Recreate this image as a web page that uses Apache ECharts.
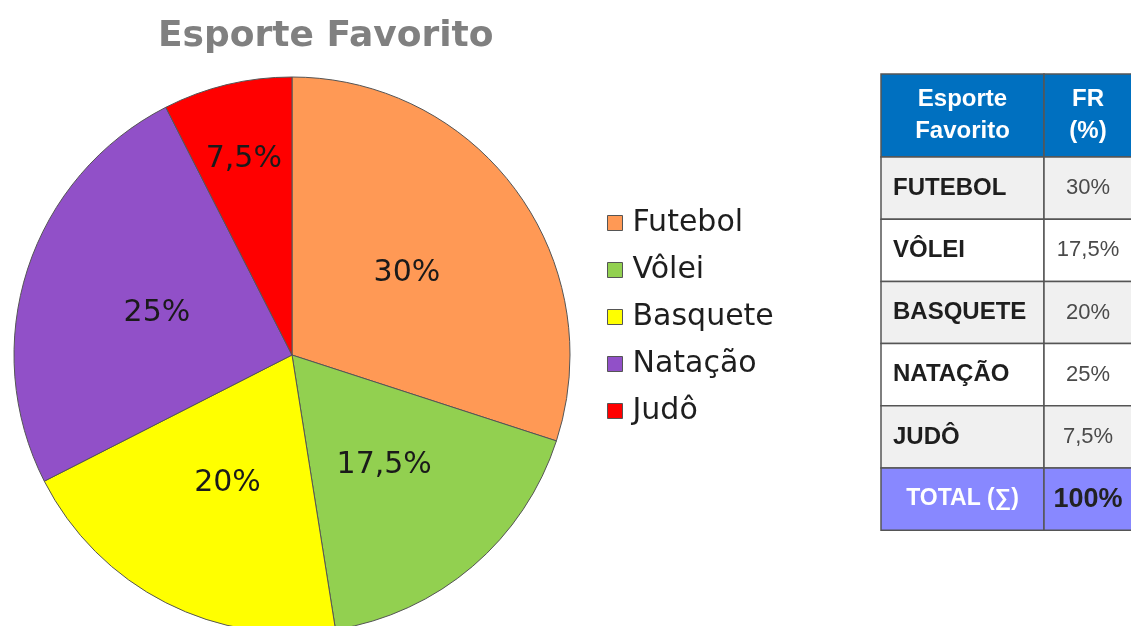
<!DOCTYPE html>
<html>
<head>
<meta charset="utf-8">
<script src="https://cdn.jsdelivr.net/npm/echarts@6/dist/echarts.min.js"></script>
<style>
  html, body { margin: 0; padding: 0; background: #fff; }
  #chart { width: 1131px; height: 626px; }
</style>
</head>
<body>
<div id="chart"></div>
<script>
// dados do gráfico
const esportes = ['Futebol', 'Vôlei', 'Basquete', 'Natação', 'Judô'];
const percentuais = [30, 17.5, 20, 25, 7.5];
const cores = ['#ff9955', '#92d050', '#ffff00', '#9150c8', '#ff0000'];
const cabecalho = ['Esporte\nFavorito', 'FR\n(%)'];
const rotuloTotal = 'TOTAL (∑)';

// formata número com vírgula decimal
function fmt(v) {
  return String(v).replace('.', ',') + '%';
}

const chart = echarts.init(document.getElementById('chart'));

// tabela à direita (desenhada com graphic)
function montaTabela() {
  const x0 = 881, y0 = 74;
  const w = [163, 88];
  const hHead = 83, hRow = 62.2;
  const borda = { stroke: '#555', lineWidth: 1.5 };
  const els = [];
  const celula = (x, y, cw, ch, fill) => {
    els.push({ type: 'rect', shape: { x: x, y: y, width: cw, height: ch }, style: Object.assign({ fill: fill }, borda), z: 1 });
  };
  const texto = (txt, x, y, opts) => {
    els.push({
      type: 'text', z: 2,
      style: Object.assign({
        text: txt, x: x, y: y, align: 'center', verticalAlign: 'middle',
        fontFamily: 'Liberation Sans, Arial', fontSize: 22, fill: '#444'
      }, opts)
    });
  };
  // cabeçalho
  celula(x0, y0, w[0], hHead, '#0070c0');
  celula(x0 + w[0], y0, w[1], hHead, '#0070c0');
  texto(cabecalho[0], x0 + w[0] / 2, y0 + hHead / 2, { fill: '#fff', fontWeight: 'bold', fontSize: 24, lineHeight: 32 });
  texto(cabecalho[1], x0 + w[0] + w[1] / 2, y0 + hHead / 2, { fill: '#fff', fontWeight: 'bold', fontSize: 24, lineHeight: 32 });
  // linhas
  esportes.forEach((nome, i) => {
    const y = y0 + hHead + i * hRow;
    const fill = i % 2 === 0 ? '#f0f0f0' : '#ffffff';
    celula(x0, y, w[0], hRow, fill);
    celula(x0 + w[0], y, w[1], hRow, fill);
    texto(nome.toUpperCase(), x0 + 12, y + hRow / 2, { align: 'left', fontWeight: 'bold', fontSize: 24, fill: '#1e1e1e' });
    texto(fmt(percentuais[i]), x0 + w[0] + w[1] / 2, y + hRow / 2, { fill: '#4a4a4a' });
  });
  // total
  const total = percentuais.reduce((a, b) => a + b, 0);
  const yt = y0 + hHead + esportes.length * hRow;
  celula(x0, yt, w[0], hRow, '#8888ff');
  celula(x0 + w[0], yt, w[1], hRow, '#8888ff');
  texto(rotuloTotal, x0 + w[0] / 2, yt + hRow / 2, { fill: '#fff', fontWeight: 'bold', fontSize: 23 });
  texto(fmt(total), x0 + w[0] + w[1] / 2, yt + hRow / 2, { fill: '#222', fontWeight: 'bold', fontSize: 27 });
  return els;
}

const option = {
  backgroundColor: '#fff',
  animation: false,
  title: {
    text: 'Esporte Favorito',
    left: 158,
    top: 19,
    padding: 0,
    textStyle: {
      fontFamily: 'DejaVu Sans',
      fontWeight: 'bold',
      fontSize: 36,
      color: '#808080'
    }
  },
  legend: {
    orient: 'vertical',
    left: 607,
    top: 208,
    padding: 0,
    icon: 'rect',
    itemWidth: 15,
    itemHeight: 15,
    itemGap: 17,
    itemStyle: { borderColor: '#555', borderWidth: 1 },
    textStyle: {
      fontFamily: 'DejaVu Sans',
      fontSize: 30,
      lineHeight: 28,
      color: '#1e1e1e',
      padding: [0, 0, 0, 5]
    },
    data: esportes
  },
  graphic: montaTabela(),
  series: [{
    type: 'pie',
    center: [292, 355],
    radius: 278,
    startAngle: 90,
    clockwise: true,
    avoidLabelOverlap: false,
    itemStyle: { borderColor: '#555', borderWidth: 1 },
    label: {
      position: 'inside',
      fontFamily: 'DejaVu Sans',
      fontSize: 30,
      color: '#1a1a1a',
      formatter: p => fmt(p.value)
    },
    labelLine: { show: false },
    // rótulo do Judô fica mais para fora, como no original
    labelLayout: function (params) {
      if (params.dataIndex === 4) {
        return { dx: -15, dy: -58 };
      }
      return { dy: 2 };
    },
    emphasis: { disabled: true },
    data: esportes.map((nome, i) => ({
      name: nome,
      value: percentuais[i],
      itemStyle: { color: cores[i] }
    }))
  }]
};

chart.setOption(option);
</script>
</body>
</html>
